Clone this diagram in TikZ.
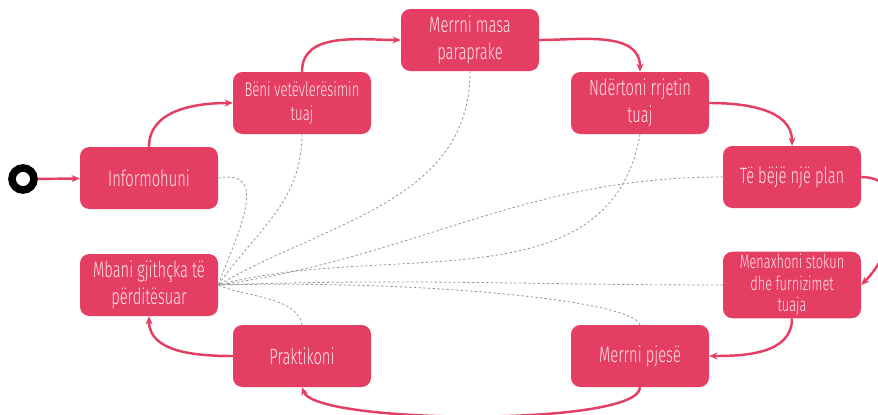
\documentclass[tikz,border=0pt]{standalone}
\usepackage{fontspec}
\setmainfont{Fira Sans Light}[FakeStretch=0.66]
\usetikzlibrary{arrows.meta}

\definecolor{rosered}{RGB}{229,62,99}
\definecolor{palepink}{RGB}{253,228,234}
\definecolor{linkgray}{RGB}{150,150,150}

\tikzstyle{block} = [rectangle, fill=rosered, text=palepink, align=center, rounded corners=8pt, minimum width=138*0.03cm, minimum height=62*0.03cm, inner sep=2pt, font=\fontsize{19}{23}\selectfont]
\tikzstyle{smallblock} = [block, font=\fontsize{17}{20}\selectfont]
\tikzstyle{arrow} = [rosered, line width=2.1pt, -{Stealth[length=7pt, width=6pt]}]
\tikzstyle{link} = [linkgray, line width=0.7pt, dash pattern=on 2pt off 2pt]

\begin{document}
\begin{tikzpicture}[x=0.03cm, y=-0.03cm]
                \useasboundingbox (0,0) rectangle (878,414);
                \node (start) [circle, draw=black, line width=6.5pt, minimum size=22*0.03cm, inner sep=0pt] at (23,179) {};
                \node (informohuni) [block] at (149,178) {Informohuni};
                \node (beni) [smallblock] at (302,103) {Bëni vetëvlerësimin\\tuaj};
                \node (masa) [block] at (470,40) {Merrni masa\\paraprake};
                \node (rrjeti) [block] at (640,103) {Ndërtoni rrjetin\\tuaj};
                \node (plani) [block] at (792,177) {Të bëjë një plan};
                \node (stoku) [smallblock, font=\fontsize{16.5}{18.5}\selectfont] at (792,285) {Menaxhoni stokun\\dhe furnizimet\\tuaja};
                \node (pjesa) [block] at (640,356) {Merrni pjesë};
                \node (praktika) [block] at (302,356) {Praktikoni};
                \node (mbani) [block] at (149,285) {Mbani gjithçka të\\përditësuar};

                % the cycle
                \draw [arrow] (start) -- (informohuni);
                \draw [arrow] (informohuni.north) to[out=90, in=180] (beni.west);
                \draw [arrow] (beni.north) to[out=90, in=180] (masa.west);
                \draw [arrow] (masa.east) to[out=0, in=90] (rrjeti.north);
                \draw [arrow] (rrjeti.east) to[out=0, in=90] (plani.north);
                \draw [arrow] (plani.east) to[out=0, in=45, looseness=1.2] (stoku.east);
                \draw [arrow] (stoku.south) to[out=-90, in=0] (pjesa.east);
                \draw [arrow] (pjesa.south) to[out=-90, in=-70, looseness=0.3] (praktika.south);
                \draw [arrow] (praktika.west) to[out=180, in=-90] (mbani.south);

                % dashed links
                \draw [link] (informohuni.east) to[out=10, in=70, looseness=1.3] (mbani.east);
                \draw [link] (beni.south) to[out=-90, in=55] (mbani.east);
                \draw [link] (masa.south) to[out=-90, in=30] (mbani.east);
                \draw [link] (rrjeti.south) to[out=-100, in=15] (mbani.east);
                \draw [link] (plani.west) to[out=180, in=8] (mbani.east);
                \draw [link] (stoku.west) to[out=180, in=2] (mbani.east);
                \draw [link] (pjesa.north) .. controls +(-8,-25) and +(200,-5) .. (mbani.east);
                \draw [link] (praktika.north) to[out=100, in=-25, looseness=0.8] (mbani.east);
            \end{tikzpicture}
\end{document}
